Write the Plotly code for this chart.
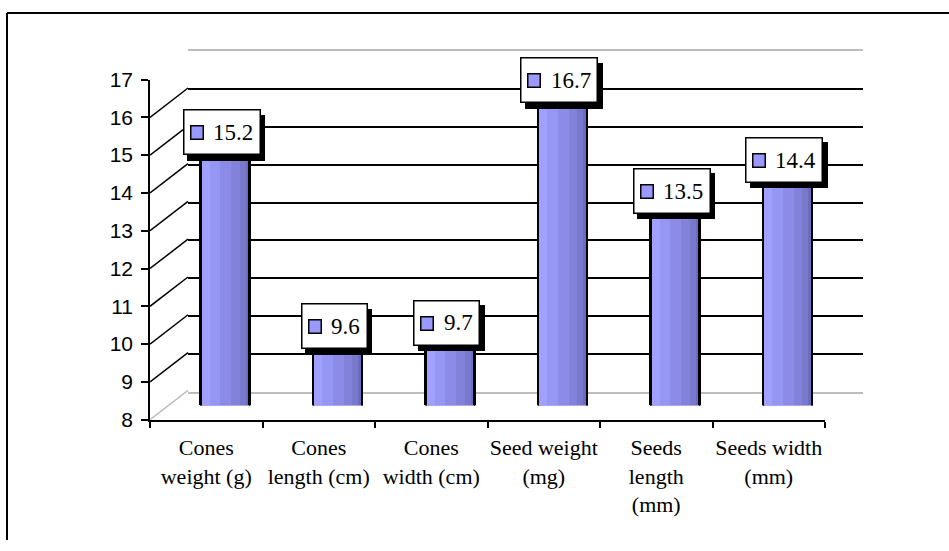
import plotly.graph_objects as go

categories = ["Cones<br>weight (g)", "Cones<br>length (cm)", "Cones<br>width (cm)",
              "Seed weight<br>(mg)", "Seeds<br>length<br>(mm)", "Seeds width<br>(mm)"]
values = [15.2, 9.6, 9.7, 16.7, 13.5, 14.4]
y_ticks = [8, 9, 10, 11, 12, 13, 14, 15, 16, 17]
y_min, y_max = 8, 17

W, H = 949, 551
# vertical compensation for the capture (picture_y = SY * page_y + OY)
SY, OY = 0.955, 11.7

def fy(y_pic):
    return (y_pic - OY) / SY

def py(d_pic):
    return d_pic / SY

# pixel geometry of the 3-D frame (in picture pixels)
FX0, FX1 = 150, 825      # front axis x extent
FY0, FY1 = 418, 79       # front axis y for y_min / y_max
DX, DY = 38, 28          # depth offset of back wall

def dom_x(a, b):
    return [a / W, b / W]

def dom_y(bottom_pic, top_pic):
    return [(H - fy(bottom_pic)) / H, (H - fy(top_pic)) / H]

n = len(categories)
xr = [-0.5, n - 0.5]
serif = "Liberation Serif"
sans = "Liberation Sans"
gray = "#BDBDBD"

fig = go.Figure()

# invisible traces to anchor front and back axes
fig.add_trace(go.Scatter(x=categories, y=values, mode="markers", marker=dict(opacity=0),
                         hoverinfo="skip", showlegend=False, xaxis="x", yaxis="y"))
fig.add_trace(go.Scatter(x=list(range(n)), y=values, mode="markers", marker=dict(opacity=0),
                         hoverinfo="skip", showlegend=False, xaxis="x2", yaxis="y2"))

# cylinder bars drawn as vertical colour stripes
bar_w = 0.436
stripes = [(0.00, 0.18, "#A0A0FF"), (0.18, 0.40, "#9696F5"), (0.40, 0.62, "#8C8CE8"),
           (0.62, 0.80, "#8282DB"), (0.80, 0.92, "#7878CD"), (0.92, 1.00, "#6C6CBC")]
xs = list(range(n))
lengths = [v - y_min for v in values]
for f0, f1, col in stripes:
    fig.add_trace(go.Bar(x=xs, y=lengths, base=y_min, width=(f1 - f0) * bar_w + 0.002,
                         offset=-bar_w / 2 + f0 * bar_w, marker=dict(color=col, line=dict(width=0)),
                         hoverinfo="skip", showlegend=False, xaxis="x3", yaxis="y3"))
edge = 1.6 / ((FX1 - FX0) / n)
for off in (-bar_w / 2 - edge / 2, bar_w / 2 - edge / 2):
    fig.add_trace(go.Bar(x=xs, y=lengths, base=y_min, width=edge, offset=off,
                         marker=dict(color="black", line=dict(width=0)),
                         hoverinfo="skip", showlegend=False, xaxis="x3", yaxis="y3"))

shapes = []
# side-wall diagonals
for g in y_ticks:
    col = gray if g in (y_min, y_max) else "black"
    shapes.append(dict(type="line", xref="x", yref="y", xsizemode="pixel", ysizemode="pixel",
                       xanchor=-0.5, yanchor=g, x0=0, x1=DX, y0=0, y1=py(DY),
                       line=dict(color=col, width=1.5)))
# right floor diagonal
shapes.append(dict(type="line", xref="x", yref="y", xsizemode="pixel", ysizemode="pixel",
                   xanchor=n - 0.5, yanchor=y_min, x0=0, x1=DX, y0=0, y1=py(DY),
                   line=dict(color="black", width=1.5)))
# cylinder bottoms
half_px = bar_w * (FX1 - FX0) / n / 2
for i in range(n):
    shapes.append(dict(type="circle", xref="x3", yref="y3", xsizemode="pixel", ysizemode="pixel",
                       xanchor=i, yanchor=y_min, x0=-half_px, x1=half_px, y0=-py(5), y1=py(5),
                       fillcolor="#8C8CE8", line=dict(color="black", width=1.5), layer="below"))
# outer frame (top and left edges)
top_y = (H - 1) / H
shapes.append(dict(type="line", xref="paper", yref="paper", x0=7 / W, x1=1, y0=top_y, y1=top_y,
                   line=dict(color="black", width=2)))
shapes.append(dict(type="line", xref="paper", yref="paper", x0=7 / W, x1=7 / W, y0=0, y1=top_y,
                   line=dict(color="black", width=2)))

# data labels: shadow, white box, legend key, value text
annotations = []
for i, v in enumerate(values):
    txt = f"{v:.1f}"
    tw = 23 * (0.5 * (len(txt) - 1) + 0.25)
    box_w = tw + 38
    box_h = py(43.5)
    off_down = -5.1 + 3.02 * (v - 13.88)
    ys = -py(off_down)
    xs_c = -3.5
    common = dict(xref="x3", yref="y3", x=i, y=v, showarrow=False, yanchor="middle")
    annotations.append(dict(**common, text=" ", xanchor="center", font=dict(size=8),
                            width=box_w - 3, height=box_h - 3, borderpad=0, borderwidth=1.5,
                            bgcolor="black", bordercolor="black", xshift=xs_c + 4.5, yshift=ys - py(5)))
    annotations.append(dict(**common, text=" ", xanchor="center", font=dict(size=8),
                            width=box_w - 3, height=box_h - 3, borderpad=0, borderwidth=1.5,
                            bgcolor="white", bordercolor="black", xshift=xs_c, yshift=ys))
    annotations.append(dict(**common, text=" ", xanchor="center", font=dict(size=8),
                            width=11, height=py(11), borderpad=0, borderwidth=1.5,
                            bgcolor="#9999FF", bordercolor="black",
                            xshift=xs_c - box_w / 2 + 14, yshift=ys - 0.5))
    annotations.append(dict(**common, text=txt, xanchor="right",
                            font=dict(family=serif, size=23, color="black"),
                            borderpad=0, borderwidth=0,
                            xshift=xs_c + box_w / 2 - 7.5, yshift=ys))

fig.update_layout(
    width=W, height=H, margin=dict(l=0, r=0, t=0, b=0), autosize=False,
    paper_bgcolor="white", plot_bgcolor="rgba(0,0,0,0)",
    barmode="overlay", bargap=0, showlegend=False,
    xaxis=dict(domain=dom_x(FX0, FX1), anchor="y", type="category", categoryarray=categories,
               range=xr, showline=True, linecolor="black", linewidth=2, ticks="outside",
               tickson="boundaries", ticklen=6, tickwidth=1.5, tickcolor="black", showgrid=False,
               tickangle=0, ticklabelstandoff=7,
               tickfont=dict(family=serif, size=22, color="black"), fixedrange=True),
    yaxis=dict(domain=dom_y(FY0, FY1), anchor="x", range=[y_min, y_max], tickvals=y_ticks,
               showline=True, linecolor="black", linewidth=1.5, ticks="outside", ticklen=7,
               tickwidth=1.5, tickcolor="black", showgrid=False, zeroline=False,
               ticklabelstandoff=4, tickfont=dict(family=sans, size=21, color="black")),
    xaxis2=dict(domain=dom_x(FX0 + DX, FX1 + DX), anchor="y2", range=xr, showline=True,
                mirror=True, linecolor=gray, linewidth=2, showgrid=False, zeroline=False,
                showticklabels=False, ticks=""),
    yaxis2=dict(domain=dom_y(FY0 - DY, FY1 - DY), anchor="x2", range=[y_min, y_max],
                tickvals=y_ticks[1:-1], showgrid=True, gridcolor="black", gridwidth=1.5,
                zeroline=False, showline=False, showticklabels=False, ticks=""),
    xaxis3=dict(domain=dom_x(FX0 + DX / 2, FX1 + DX / 2), anchor="y3", range=xr, visible=False),
    yaxis3=dict(domain=dom_y(FY0 - DY / 2, FY1 - DY / 2), anchor="x3", range=[y_min, y_max],
                visible=False),
    shapes=shapes, annotations=annotations,
)

fig.write_html("out.html", config={"responsive": False, "displayModeBar": False},
               post_script="document.body.style.margin='0px';document.body.style.overflow='hidden';")
